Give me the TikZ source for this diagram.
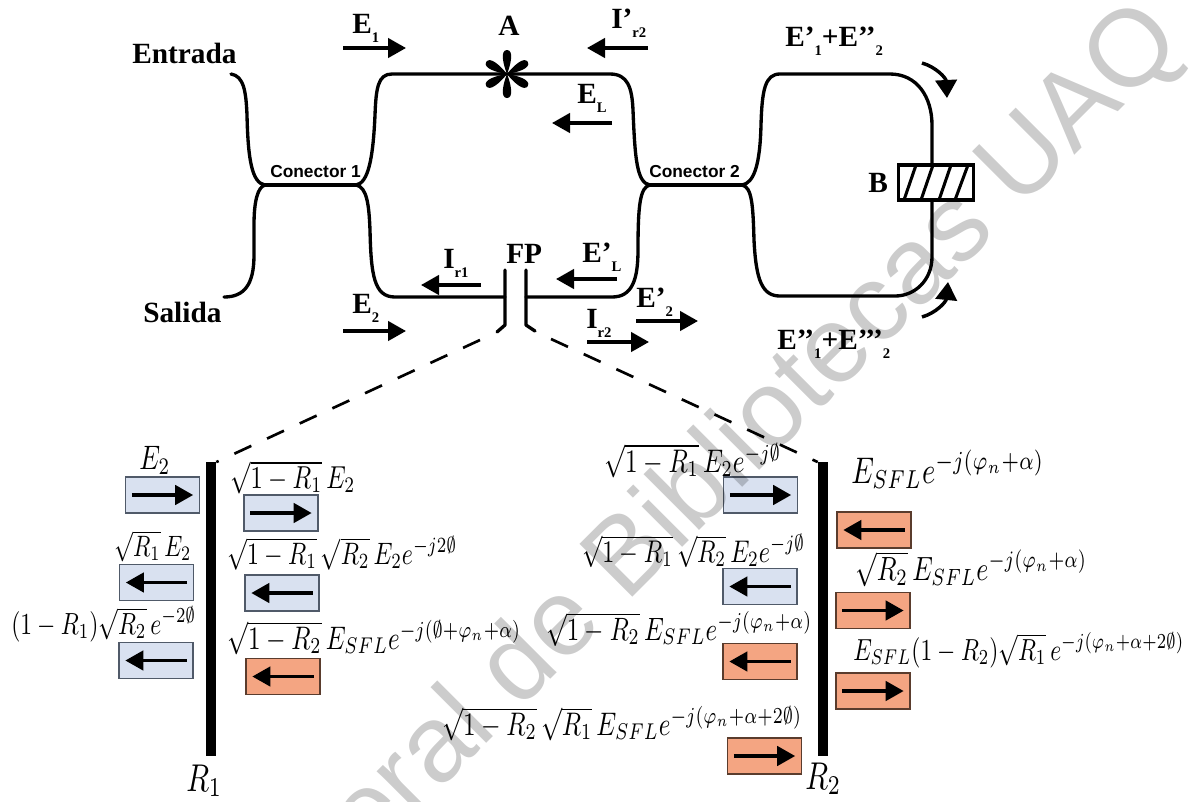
\documentclass[tikz,border=0pt]{standalone}
\usepackage{graphicx}
\usepackage{amsmath}
\usepackage{fontspec}
\setmainfont{Liberation Serif}
\setsansfont{Liberation Sans}
\usetikzlibrary{arrows.meta}
\newlength\pxu \setlength\pxu{0.75pt}
\definecolor{bluefill}{RGB}{217,225,240}
\definecolor{bluedraw}{RGB}{80,90,105}
\definecolor{orangefill}{RGB}{244,165,130}
\definecolor{orangedraw}{RGB}{90,60,45}
\tikzset{
  x=0.75pt,y=-0.75pt,
  fibre/.style={line width=2.5pt,line cap=round,line join=round,black},
  lab/.style={anchor=base west,inner sep=0pt,font=\fontsize{22}{24}\selectfont\bfseries},
  conn/.style={anchor=base west,inner sep=0pt,font=\sffamily\bfseries\fontsize{13}{14}\selectfont},
  formula/.style={anchor=base west,inner sep=0pt},
  blackarrow/.style={line width=2.6pt,-{Triangle[length=13.5pt,width=14.5pt]}},
  bentarrow/.style={line width=2.6pt,-{Triangle[length=13.5pt,width=16pt]}},
  blueb/.style={draw=bluedraw,fill=bluefill,line width=1.1pt,minimum width=55.5pt,minimum height=27pt,inner sep=0pt},
  orangeb/.style={draw=orangedraw,fill=orangefill,line width=1.1pt,minimum width=55.5pt,minimum height=27pt,inner sep=0pt},
  mirror/.style={fill=black,draw=none},
  dashedlink/.style={line width=2pt,dash pattern=on 14pt off 13pt},
  mark text/.style={anchor=base west,inner sep=0pt,font=\sffamily\fontsize{81.5}{84}\selectfont,text=black,text opacity=0.2,rotate=45},
}
\newcommand\lsub[1]{\raisebox{-9\pxu}{\fontsize{11}{12}\selectfont #1}}
% straight arrow between two named coordinates
\newcommand\arr[5]{\coordinate (#1s) at (#2,#3);\coordinate (#1e) at (#4,#5);\draw[blackarrow] (#1s) -- (#1e);}
% box with arrow inside: name, cx, cy, style, direction sign
\newcommand\bx[5]{\node[#4] (#1) at (#2,#3) {};
  \draw[blackarrow] ([xshift=-#5*23pt]#1.center) -- ([xshift=#5*23pt]#1.center);}
% formula: name, x, baseline, width in px, math
\newcommand\fml[5]{\node[formula] (#1) at (#2,#3) {\scalebox{1}[1.3]{\resizebox{#4\pxu}{!}{$#5$}}};}
\newcommand\ph{\emptyset}
\begin{document}
\begin{tikzpicture}
\useasboundingbox (0,0) rectangle (1193,801);
% fibre junctions
\coordinate (c1l) at (265,185);
\coordinate (c1r) at (356,185);
\coordinate (c2l) at (650,185);
\coordinate (c2r) at (742,185);
\coordinate (fpl) at (505,297);
\coordinate (fpr) at (526,297);
\coordinate (bt) at (932,165);
\coordinate (bb) at (932,200);
% fibres
\draw[fibre] (231,74) .. controls (244,76) and (246,92) .. (247,115) .. controls (248,160) and (252,183) .. (c1l);
\draw[fibre] (c1l) .. controls (258,187) and (254,200) .. (254,225) -- (254,255) .. controls (254,285) and (244,297) .. (224,297);
\draw[fibre] (c1l) -- (c1r);
\draw[fibre] (c1r) .. controls (368,183) and (373,160) .. (375,115) .. controls (376,88) and (378,74) .. (392,74) -- (610,74) .. controls (628,74) and (632,88) .. (633,110) .. controls (635,160) and (637,183) .. (c2l);
\draw[fibre] (c1r) .. controls (367,187) and (369,205) .. (370,230) .. controls (371,275) and (374,297) .. (395,297) -- (fpl);
\draw[fibre] (fpr) -- (612,297) .. controls (632,297) and (638,280) .. (638,250) .. controls (638,205) and (640,187) .. (c2l);
\draw[fibre] (c2l) -- (c2r);
\draw[fibre] (c2r) .. controls (754,183) and (760,165) .. (761,125) .. controls (762,90) and (765,74) .. (780,74) -- (890,74) .. controls (917,74) and (932,97) .. (932,125) -- (bt);
\draw[fibre] (bb) -- (932,257) .. controls (932,280) and (915,296) .. (895,296) -- (780,296) .. controls (762,296) and (756,280) .. (754,240) .. controls (753,205) and (752,187) .. (c2r);
% star A
\coordinate (starA) at (507,74);
\foreach \a in {90,30,-30,-90,150,210}{
  \fill[rotate around={\a:(starA)}] (starA) .. controls (517,70) and (531,67) .. (531,74) .. controls (531,81) and (517,78) .. (starA);
}
% FP plates
\draw[fibre] (505,270) -- (505,325) -- (497,332);
\draw[fibre] (526,270) -- (526,325) -- (535,331);
% B box
\node[draw=black,line width=2.5pt,fill=white,minimum width=56.25pt,minimum height=26.25pt,inner sep=0pt] (boxB) at (936,182.5) {};
\draw[line width=2.3pt] (904,200) -- (916,165) (921,200) -- (933,165) (939,200) -- (951,165) (955,200) -- (968,165);
% arrows
\arr{aE1}{343}{48}{406}{48}
\arr{aIr}{648}{48}{587}{48}
\arr{aEL}{612}{123}{552}{123}
\arr{aIa}{481}{285}{421}{285}
\arr{aEpL}{617}{279}{556}{279}
\arr{aE2}{343}{331}{406}{331}
\arr{aIb}{587}{342}{649}{342}
\arr{aEp}{636}{321}{698}{321}
% curved arrows
\coordinate (ct1) at (922,63);\coordinate (ct2) at (947,98);
\coordinate (cb1) at (922,317);\coordinate (cb2) at (948,282);
\draw[bentarrow] (ct1) .. controls (936,67) and (946,78) .. (ct2);
\draw[bentarrow] (cb1) .. controls (936,313) and (946,302) .. (cb2);
% labels
\node[lab] (entrada) at (132,63) {Entrada};
\node[lab] (salida) at (143,322) {Salida};
\node[lab] (lE1) at (352,33) {E\lsub{1}};
\node[lab] (lA) at (498,35) {A};
\node[lab] (lIr) at (611,28) {I’\lsub{r2}};
\node[lab] (lEL) at (577,103) {E\lsub{L}};
\node[lab] (lIa) at (443,268) {I\lsub{r1}};
\node[lab] (lFP) at (506,263) {FP};
\node[lab] (lEpL) at (582,262) {E’\lsub{L}};
\node[lab] (lE2) at (352,313) {E\lsub{2}};
\node[lab] (lEp) at (636,307) {E’\lsub{2}};
\node[lab] (lIb) at (586,328) {I\lsub{r2}};
\node[lab] (lTop) at (785,46) {E’\lsub{1}+E’’\lsub{2}};
\node[lab] (lBot) at (777,349) {E’’\lsub{1}+E’’’\lsub{2}};
\node[lab] (lB) at (868,192) {B};
\node[conn] (c1) at (270,177) {Conector 1};
\node[conn] (c2) at (649,177) {Conector 2};
% mirrors
\node[mirror,minimum width=7.5pt,minimum height=220pt,inner sep=0pt] (R1bar) at (211,609) {};
\node[mirror,minimum width=7.5pt,minimum height=220pt,inner sep=0pt] (R2bar) at (823,609) {};
% dashed links
\coordinate (dl) at (480,340);
\coordinate (dr) at (551,339);
\draw[dashedlink] (dl) -- (R1bar.north east);
\draw[dashedlink] (dr) -- (R2bar.north west);
% boxes
\bx{b1}{162.5}{495}{blueb}{1}
\bx{b2}{281}{513}{blueb}{1}
\bx{b3}{156.5}{582.5}{blueb}{-1}
\bx{b4}{282}{593}{blueb}{-1}
\bx{b5}{156}{660.5}{blueb}{-1}
\bx{b6}{283}{676.5}{orangeb}{-1}
\bx{b7}{760.5}{495}{blueb}{1}
\bx{b8}{760}{586.5}{blueb}{-1}
\bx{b9}{760}{661.5}{orangeb}{-1}
\bx{b10}{764.5}{756}{orangeb}{1}
\bx{b11}{874}{530}{orangeb}{-1}
\bx{b12}{873}{610.5}{orangeb}{1}
\bx{b13}{873}{691}{orangeb}{1}
% formulas
\fml{f1}{139}{469}{31}{E_2}
\fml{f2}{230}{488}{125}{\sqrt{1-R_1}\,E_2}
\fml{f3}{114}{556}{77}{\sqrt{R_1}\,E_2}
\fml{f4}{227}{564}{230}{\sqrt{1-R_1}\,\sqrt{R_2}\,E_2 e^{-j2\ph}}
\fml{f5}{11}{634}{185}{(1-R_1)\sqrt{R_2}\,e^{-2\ph}}
\fml{f6}{227}{649}{294}{\sqrt{1-R_2}\,E_{SFL}e^{-j(\ph+\varphi_n+\alpha)}}
\fml{f7}{604}{472}{177}{\sqrt{1-R_1}\,E_2e^{-j\ph}}
\fml{f8}{582}{562}{223}{\sqrt{1-R_1}\,\sqrt{R_2}\,E_2e^{-j\ph}}
\fml{f9}{546}{640}{266}{\sqrt{1-R_2}\,E_{SFL}e^{-j(\varphi_n+\alpha)}}
\fml{f10}{442}{735}{360}{\sqrt{1-R_2}\,\sqrt{R_1}\,E_{SFL}e^{-j(\varphi_n+\alpha+2\ph)}}
\fml{f11}{851}{483}{193}{E_{SFL}e^{-j(\varphi_n+\alpha)}}
\fml{f12}{855}{580}{232}{\sqrt{R_2}\,E_{SFL}e^{-j(\varphi_n+\alpha)}}
\fml{f13}{853}{660}{331}{E_{SFL}(1-R_2)\sqrt{R_1}\,e^{-j(\varphi_n+\alpha+2\ph)}}
\fml{r1}{186}{791}{36}{R_1}
\fml{r2}{805}{789}{36}{R_2}
% watermark
\begin{scope}
\clip (0,0) rectangle (1193,801);
\node[mark text] (wm) at (370,860) {eral de Bibliotecas UAQ};
\end{scope}
\end{tikzpicture}
\end{document}
